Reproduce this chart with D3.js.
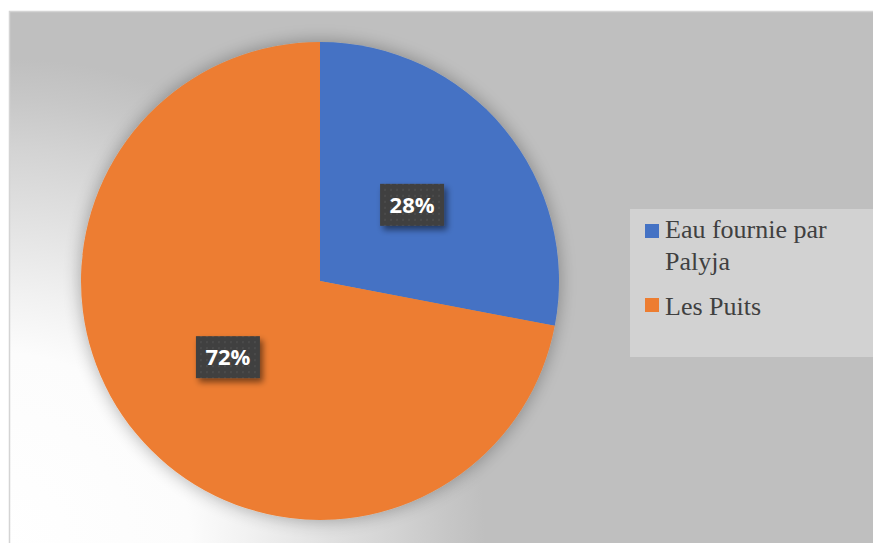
<!DOCTYPE html>
<html>
<head>
<meta charset="utf-8">
<script src="https://cdn.jsdelivr.net/npm/d3@7"></script>
<style>
  html, body { margin: 0; padding: 0; background: #ffffff; }
  svg { display: block; }
</style>
</head>
<body>
<svg id="chart" width="873" height="543"></svg>
<script>
// Water source shares
const categories = ["Eau fournie par Palyja", "Les Puits"];
const legendLines = [["Eau fournie par", "Palyja"], ["Les Puits"]];
const values = [28, 72];
const valueLabels = ["28%", "72%"];
const colors = ["#4472c4", "#ed7d31"];

const svg = d3.select("#chart");
const W = 873, H = 543;
const defs = svg.append("defs");

// Chart area background: grey with a pale glow from the lower-left corner
const bg = defs.append("radialGradient")
  .attr("id", "bgGrad")
  .attr("gradientUnits", "userSpaceOnUse")
  .attr("cx", 0).attr("cy", 543).attr("r", 500);
[[0, "#ffffff"], [0.38, "#fcfcfc"], [0.5, "#f1f1f1"], [0.79, "#d3d3d3"],
 [0.89, "#c7c7c7"], [0.97, "#bfbfbf"], [1, "#bfbfbf"]]
  .forEach(([o, c]) => bg.append("stop").attr("offset", o).attr("stop-color", c));

// Soft shadow round the pie
const pieShadow = defs.append("filter").attr("id", "pieShadow")
  .attr("x", "-20%").attr("y", "-20%").attr("width", "140%").attr("height", "140%");
pieShadow.append("feGaussianBlur").attr("in", "SourceAlpha").attr("stdDeviation", 9).attr("result", "b");
pieShadow.append("feComponentTransfer").attr("in", "b").attr("result", "s")
  .append("feFuncA").attr("type", "linear").attr("slope", 0.32);
const pm = pieShadow.append("feMerge");
pm.append("feMergeNode").attr("in", "s");
pm.append("feMergeNode").attr("in", "SourceGraphic");

// Shadow for the value label boxes
const boxShadow = defs.append("filter").attr("id", "boxShadow")
  .attr("x", "-30%").attr("y", "-30%").attr("width", "170%").attr("height", "180%");
boxShadow.append("feGaussianBlur").attr("in", "SourceAlpha").attr("stdDeviation", 3).attr("result", "b");
boxShadow.append("feOffset").attr("in", "b").attr("dx", 3).attr("dy", 4).attr("result", "o");
boxShadow.append("feComponentTransfer").attr("in", "o").attr("result", "s")
  .append("feFuncA").attr("type", "linear").attr("slope", 0.5);
const bm = boxShadow.append("feMerge");
bm.append("feMergeNode").attr("in", "s");
bm.append("feMergeNode").attr("in", "SourceGraphic");

// Dotted texture on the label boxes
const pat = defs.append("pattern").attr("id", "dots")
  .attr("patternUnits", "userSpaceOnUse").attr("width", 6).attr("height", 6);
pat.append("rect").attr("width", 6).attr("height", 6).attr("fill", "#3f3f3f");
pat.append("circle").attr("cx", 3).attr("cy", 3).attr("r", 1.2).attr("fill", "#4b4b4b");

// Chart area
svg.append("rect")
  .attr("x", 9).attr("y", 11).attr("width", W - 9).attr("height", H - 11)
  .attr("fill", "url(#bgGrad)");
svg.append("path")
  .attr("d", `M9.5,${H} V11.5 H${W}`)
  .attr("fill", "none").attr("stroke", "#d4d4d4").attr("stroke-width", 1.5);

// Pie
const cx = 320, cy = 281, radius = 239;
const pie = d3.pie().sort(null).value(d => d)(values);
const arc = d3.arc().innerRadius(0).outerRadius(radius);

const g = svg.append("g").attr("transform", `translate(${cx},${cy})`);
g.append("g").attr("filter", "url(#pieShadow)")
  .selectAll("path").data(pie).join("path")
  .attr("d", arc)
  .attr("fill", (d, i) => colors[i]);

// Value labels in dark boxes at the slice centroids
const labels = g.selectAll("g.lbl").data(pie).join("g")
  .attr("class", "lbl")
  .attr("transform", d => {
    const [x, y] = arc.centroid(d);
    return `translate(${x},${y})`;
  });
labels.append("rect")
  .attr("x", -32).attr("y", -21).attr("width", 64).attr("height", 42)
  .attr("fill", "url(#dots)")
  .attr("filter", "url(#boxShadow)");
labels.append("text")
  .attr("text-anchor", "middle")
  .attr("y", 8)
  .attr("font-family", "'Open Sans', Lato, sans-serif")
  .attr("font-weight", 700)
  .attr("font-size", 22)
  .attr("fill", "#ffffff")
  .text((d, i) => valueLabels[i]);

// Legend
svg.append("rect")
  .attr("x", 630).attr("y", 209).attr("width", W - 630).attr("height", 148)
  .attr("fill", "#d2d2d2");

const legendTop = [224, 298];
const legendBase = [238, 315];
const leg = svg.append("g");
categories.forEach((c, i) => {
  const item = leg.append("g");
  item.append("rect")
    .attr("x", 645).attr("y", legendTop[i]).attr("width", 14).attr("height", 14)
    .attr("fill", colors[i]);
  const t = item.append("text")
    .attr("x", 665).attr("y", legendBase[i])
    .attr("font-family", "'Liberation Serif', 'Times New Roman', serif")
    .attr("font-size", 26)
    .attr("fill", "#404040");
  legendLines[i].forEach((line, k) => {
    t.append("tspan").attr("x", 665).attr("dy", k === 0 ? 0 : 32).text(line);
  });
});
</script>
</body>
</html>
